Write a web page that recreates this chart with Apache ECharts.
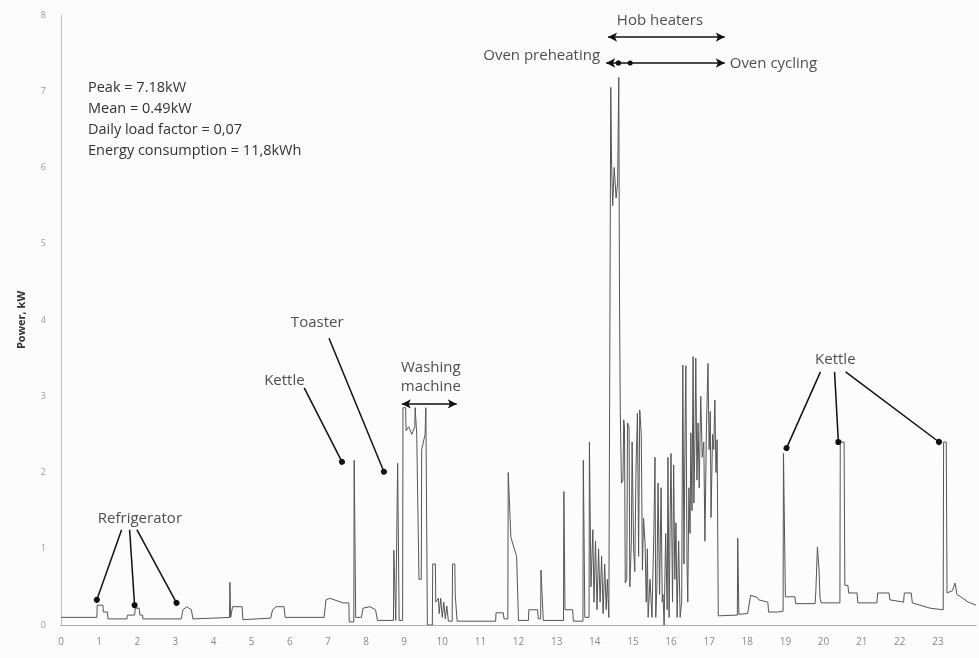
<!DOCTYPE html>
<html>
<head>
<meta charset="utf-8">
<script src="https://cdn.jsdelivr.net/npm/echarts@6/dist/echarts.min.js"></script>
<style>
html,body{margin:0;padding:0;background:#fcfcfc;}
#c{width:979px;height:658px;}
</style>
</head>
<body>
<div id="c"></div>
<script>
// ---- Data (hour of day, kW) ----
var nightLoad = [[0,0.1],[0.94,0.1],[0.95,0.26],[1.1,0.26],[1.11,0.17],[1.22,0.17],[1.23,0.08],[1.73,0.08],[1.74,0.13],[1.93,0.13],[1.95,0.22],[2.05,0.22],[2.07,0.13],[2.14,0.13],[2.15,0.08],[3.15,0.08],[3.2,0.2],[3.3,0.24],[3.42,0.2],[3.46,0.08],[4.0,0.09],[4.42,0.1],[4.43,0.56],[4.45,0.1],[4.5,0.24],[4.75,0.24],[4.77,0.07],[5.5,0.09],[5.55,0.2],[5.65,0.24],[5.85,0.24],[5.88,0.1],[6.9,0.1],[6.95,0.33],[7.05,0.35],[7.4,0.29],[7.55,0.29],[7.56,0.04],[7.68,0.04]];
var morningLoad = [[7.69,2.16],[7.72,2.16],[7.73,0.1],[7.88,0.1],[7.92,0.22],[8.1,0.24],[8.25,0.2],[8.3,0.06],[8.72,0.06],[8.73,0.98],[8.77,0.98],[8.78,0.06],[8.82,0.06],[8.83,2.12],[8.86,2.12],[8.87,0.06],[8.96,0.06],[8.97,2.85],[9.04,2.85],[9.05,2.55],[9.12,2.6],[9.2,2.5],[9.28,2.6],[9.29,2.85],[9.32,2.85],[9.33,2.5],[9.38,2.5],[9.39,0.6],[9.45,0.6],[9.46,2.3],[9.55,2.5],[9.57,2.85],[9.6,2.85],[9.61,0.0],[9.74,0.0],[9.75,0.8],[9.82,0.8],[9.83,0.3],[9.9,0.35],[9.92,0.15],[9.96,0.35],[10.0,0.1],[10.04,0.3],[10.08,0.08],[10.12,0.25],[10.16,0.05],[10.26,0.05],[10.27,0.8],[10.33,0.8],[10.34,0.4],[10.38,0.4],[10.39,0.05]];
var middayLoad = [[11.4,0.05],[11.41,0.16],[11.6,0.16],[11.62,0.08],[11.72,0.08],[11.73,2.0],[11.78,2.0],[11.8,1.15],[11.86,1.05],[11.95,0.9],[11.99,0.9],[12.0,0.06],[12.26,0.06],[12.27,0.2],[12.5,0.2],[12.52,0.08],[12.58,0.08],[12.59,0.72],[12.64,0.72],[12.65,0.06],[13.18,0.06],[13.19,1.75],[13.21,1.75],[13.22,0.2],[13.42,0.2],[13.44,0.05],[13.69,0.05],[13.7,2.16],[13.73,2.16],[13.74,0.1],[13.85,0.1],[13.86,2.4],[13.89,2.4],[13.9,0.5],[13.95,1.25],[13.98,0.3],[14.02,1.1],[14.06,0.2],[14.1,1.0],[14.14,0.3],[14.18,0.9],[14.22,0.15],[14.26,0.8],[14.3,0.2],[14.33,0.6],[14.37,0.1],[14.41,0.1]];
var afternoonLoad = [[14.42,7.05],[14.44,6.1],[14.47,5.5],[14.51,6.0],[14.56,5.6],[14.6,5.8],[14.63,7.18],[14.65,4.2],[14.67,2.8],[14.69,2.82],[14.7,1.86],[14.74,1.9],[14.76,2.69],[14.78,2.6],[14.8,0.55],[14.84,0.6],[14.86,2.65],[14.9,2.6],[14.92,0.5],[14.96,1.1],[14.98,2.4],[15.02,1.0],[15.05,0.7],[15.08,2.0],[15.12,2.78],[15.15,0.9],[15.18,2.82],[15.22,2.5],[15.25,0.72],[15.28,1.4],[15.32,1.07],[15.35,0.3],[15.38,1.0],[15.4,0.1],[15.45,0.6],[15.5,0.1],[15.55,1.2],[15.58,2.2],[15.6,0.1],[15.63,0.5],[15.66,1.86],[15.7,0.4],[15.74,1.8],[15.77,0.3],[15.79,0.4],[15.82,0.0],[15.86,1.2],[15.9,0.2],[15.92,2.2],[15.95,0.1],[15.98,1.5],[16.0,2.25],[16.04,0.3],[16.07,2.1],[16.1,0.6],[16.13,1.34],[16.16,0.1],[16.2,1.1],[16.24,0.1],[16.28,0.3],[16.31,3.41],[16.34,0.8],[16.37,2.6],[16.39,3.4],[16.42,0.8],[16.44,0.3],[16.47,1.8],[16.5,1.2],[16.52,2.52],[16.55,1.5],[16.58,3.52],[16.6,1.6],[16.63,2.5],[16.65,3.5],[16.68,1.9],[16.71,2.65],[16.74,1.8],[16.78,3.0],[16.82,2.2],[16.86,2.4],[16.89,1.1],[16.93,2.6],[16.97,3.43],[17.0,2.3],[17.03,2.8],[17.05,1.41],[17.09,2.5],[17.12,2.3],[17.15,2.95],[17.18,2.0],[17.21,2.43],[17.23,2.43]];
var eveningLoad = [[17.24,0.12],[17.74,0.13],[17.75,1.14],[17.77,1.14],[17.78,0.14],[18.01,0.15],[18.09,0.39],[18.27,0.36],[18.3,0.33],[18.54,0.3],[18.56,0.17],[18.8,0.17],[18.94,0.18],[18.95,2.25],[18.99,2.25],[19.0,0.37],[19.25,0.37],[19.27,0.28],[19.78,0.28],[19.8,0.45],[19.84,1.02],[19.88,0.75],[19.91,0.35],[19.94,0.29],[20.43,0.29],[20.44,2.4],[20.54,2.4],[20.56,0.52],[20.64,0.52],[20.66,0.42],[20.88,0.42],[20.9,0.29],[21.4,0.29],[21.42,0.42],[21.72,0.42],[21.74,0.33],[22.1,0.3],[22.12,0.42],[22.3,0.42],[22.33,0.29],[22.8,0.22],[23.14,0.2],[23.15,2.4],[23.22,2.4],[23.24,0.42],[23.38,0.45],[23.45,0.55],[23.5,0.4],[23.6,0.37],[23.8,0.3],[24,0.26]];

var xTicks = ['0','1','2','3','4','5','6','7','8','9','10','11','12','13','14','15','16','17','18','19','20','21','22','23'];
var yTicks = ['0','1','2','3','4','5','6','7','8'];

var statsLines = ['Peak = 7.18kW','Mean = 0.49kW','Daily load factor = 0,07','Energy consumption = 11,8kWh'];

// annotation labels: [hour, kW, text, align]
var labelNotes = [
  [2.07,1.39,'Refrigerator','center'],
  [5.86,3.21,'Kettle','center'],
  [6.72,3.97,'Toaster','center'],
  [9.70,3.38,'Washing','center'],
  [9.70,3.13,'machine','center'],
  [15.71,7.92,'Hob heaters','center'],
  [14.14,7.46,'Oven preheating','right'],
  [17.54,7.36,'Oven cycling','left'],
  [20.31,3.48,'Kettle','center']
];
// pointer lines: [fromHour, fromKW, toHour, toKW] (dot at the end)
var pointerNotes = [
  [1.59,1.25,0.94,0.33],[1.80,1.25,1.93,0.26],[1.99,1.25,3.03,0.29],
  [6.38,3.11,7.37,2.14],
  [7.03,3.76,8.47,2.01],
  [19.92,3.32,19.03,2.32],[20.29,3.32,20.39,2.40],[20.58,3.32,23.03,2.40]
];
// double arrows: [fromHour, toHour, kW, startSymbol, endSymbol]
var spanNotes = [
  [8.94,10.38,2.90,'arrow','arrow'],
  [14.35,17.41,7.71,'arrow','arrow'],
  [14.30,14.62,7.37,'arrow','circle'],
  [14.62,14.93,7.37,'circle','circle'],
  [14.93,17.41,7.37,'none','arrow']
];

var load = nightLoad.concat(morningLoad, middayLoad, afternoonLoad, eveningLoad);
var FONT = 'Open Sans';

function endSize(s){ return s === 'circle' ? 5 : [7,9]; }
var markLines = [];
pointerNotes.forEach(function(p){
  markLines.push([{coord:[p[0],p[1]],symbol:'none'},{coord:[p[2],p[3]],symbol:'circle',symbolSize:6}]);
});
spanNotes.forEach(function(s){
  markLines.push([{coord:[s[0],s[2]],symbol:s[3],symbolSize:endSize(s[3])},{coord:[s[1],s[2]],symbol:s[4],symbolSize:endSize(s[4])}]);
});

var chart = echarts.init(document.getElementById('c'));
chart.setOption({
  animation:false,
  backgroundColor:'#fcfcfc',
  grid:{left:61,right:0,top:15,bottom:33,containLabel:false},
  xAxis:{
    type:'value',min:0,max:24,interval:1,
    axisLine:{show:true,lineStyle:{color:'#b0b0b0',width:1}},
    axisTick:{show:false},
    splitLine:{show:false},
    axisLabel:{color:'#8a8a8a',fontSize:10,fontFamily:FONT,margin:12,
      formatter:function(v){return v<xTicks.length?xTicks[v]:'';}}
  },
  yAxis:{
    type:'value',min:0,max:8,interval:1,
    name:'Power, kW',nameLocation:'middle',nameGap:34,
    nameTextStyle:{color:'#333',fontSize:11,fontWeight:'bold',fontFamily:FONT},
    axisLine:{show:true,lineStyle:{color:'#c0c0c0',width:1}},
    axisTick:{show:false},
    splitLine:{show:false},
    axisLabel:{color:'#9a9a9a',fontSize:9,fontFamily:FONT,margin:15,
      formatter:function(v){return yTicks[v];}}
  },
  series:[
    {
      type:'line',data:load,showSymbol:false,symbol:'none',
      lineStyle:{color:'#555',width:1},
      z:2,
      markLine:{
        silent:true,animation:false,
        label:{show:false},
        lineStyle:{color:'#111',width:1.5,type:'solid'},
        emphasis:{disabled:true},
        data:markLines
      }
    },
    {
      type:'scatter',symbolSize:0,silent:true,z:5,
      data:labelNotes.map(function(n){return {value:[n[0],n[1]],label:{align:n[3]}};}),
      label:{show:true,position:'inside',color:'#222',fontSize:15,fontFamily:FONT,
        formatter:function(p){return labelNotes[p.dataIndex][2];}}
    }
  ],
  graphic:[{
    type:'text',left:88,top:78,
    style:{text:statsLines.join('\n'),fill:'#333',font:'14.5px "Open Sans"',lineHeight:20.7}
  }]
});
</script>
</body>
</html>
